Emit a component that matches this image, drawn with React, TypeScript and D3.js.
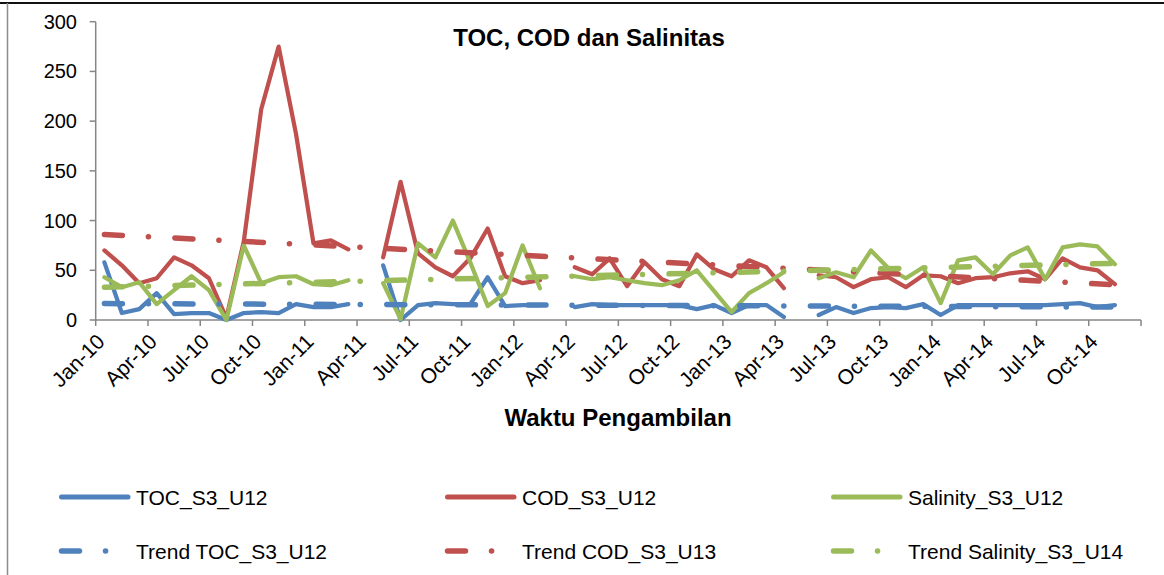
import React from "react";
import * as d3 from "d3";

const categories = [
  "Jan-10","Feb-10","Mar-10","Apr-10","May-10","Jun-10","Jul-10","Aug-10","Sep-10","Oct-10","Nov-10","Dec-10",
  "Jan-11","Feb-11","Mar-11","Apr-11","May-11","Jun-11","Jul-11","Aug-11","Sep-11","Oct-11","Nov-11","Dec-11",
  "Jan-12","Feb-12","Mar-12","Apr-12","May-12","Jun-12","Jul-12","Aug-12","Sep-12","Oct-12","Nov-12","Dec-12",
  "Jan-13","Feb-13","Mar-13","Apr-13","May-13","Jun-13","Jul-13","Aug-13","Sep-13","Oct-13","Nov-13","Dec-13",
  "Jan-14","Feb-14","Mar-14","Apr-14","May-14","Jun-14","Jul-14","Aug-14","Sep-14","Oct-14","Nov-14","Dec-14",
];

const tocS3U12: (number | null)[] = [
  58, 7, 11, 27, 6, 7, 7, 0, 7, 8, 7, 16,
  13, 13, 16, null, 55, 0, 15, 17, 16, 16, 43, 14,
  15, 15, null, 13, 16, 15, 15, 15, 15, 15, 11, 15,
  7, 15, 15, 3, null, 5, 13, 7, 12, 13, 12, 16,
  5, 15, 15, 15, 15, 15, 15, 16, 17, 13, 15, null,
];

const codS3U12: (number | null)[] = [
  70, 55, 37, 42, 63, 55, 42, 2, 79, 212, 275, 187,
  77, 80, 71, null, 63, 139, 67, 53, 44, 62, 92, 44,
  37, 40, null, 53, 46, 62, 34, 58, 41, 34, 66, 51,
  44, 60, 53, 32, null, 45, 43, 33, 41, 43, 33, 45,
  44, 37, 42, 43, 47, 49, 41, 62, 53, 50, 36, null,
];

const salinityS3U12: (number | null)[] = [
  43, 33, 38, 16, 30, 44, 30, 0, 75, 37, 43, 44,
  36, 35, 40, null, 37, 1, 77, 63, 100, 58, 14, 27,
  75, 32, null, 44, 41, 43, 40, 37, 35, 40, 50, 29,
  8, 27, 37, 48, null, 42, 48, 43, 70, 52, 42, 53,
  17, 60, 63, 46, 65, 73, 41, 73, 76, 74, 56, null,
];

// Linear trend lines: value at first month (Jan-10) and last month (Nov-14)
const trendIndex = [0, 58];
const trendToc = [16.5, 13];
const trendCod = [86, 35.5];
const trendSalinity = [33, 57];

const yTicks = [0, 50, 100, 150, 200, 250, 300];

const BLUE = "#4F81BD";
const RED = "#C0504D";
const GREEN = "#9BBB59";
const AXIS = "#868686";
const FONT = "'Liberation Sans', Arial, sans-serif";
const DASH = "18 26 0.1 26.5";

export default function App() {
  const W = 1164;
  const H = 575;
  const x = d3.scaleLinear().domain([0, 60]).range([95.7, 1141]);
  const y = d3.scaleLinear().domain([0, 300]).range([320, 21.7]);
  const px = (i: number) => x(i + 0.5);

  const line = d3
    .line<number | null>()
    .defined((d) => d != null)
    .x((_, i) => px(i))
    .y((d) => y(d as number));

  const trendLine = (vals: number[]) =>
    d3
      .line<number>()
      .x((_, k) => px(trendIndex[k]))
      .y((d) => y(d))(vals) || "";

  const series = [
    { data: tocS3U12, color: BLUE },
    { data: codS3U12, color: RED },
    { data: salinityS3U12, color: GREEN },
  ];
  const trends = [
    { data: trendToc, color: BLUE },
    { data: trendCod, color: RED },
    { data: trendSalinity, color: GREEN },
  ];

  const legend = [
    { label: "TOC_S3_U12", color: BLUE, dash: false, col: 0, row: 0 },
    { label: "COD_S3_U12", color: RED, dash: false, col: 1, row: 0 },
    { label: "Salinity_S3_U12", color: GREEN, dash: false, col: 2, row: 0 },
    { label: "Trend TOC_S3_U12", color: BLUE, dash: true, col: 0, row: 1 },
    { label: "Trend COD_S3_U13", color: RED, dash: true, col: 1, row: 1 },
    { label: "Trend Salinity_S3_U14", color: GREEN, dash: true, col: 2, row: 1 },
  ];
  const legendX = [59, 445, 831];
  const legendY = [497, 551];

  const xTickIdx = d3.range(0, 61, 3);

  return (
    <svg
      width={W}
      height={H}
      style={{ position: "absolute", left: 0, top: 0, background: "#fff" }}
      fontFamily={FONT}
    >
      <rect x={0} y={0} width={W} height={H} fill="#fff" />
      {/* chart border */}
      <line x1={0} x2={W} y1={3} y2={3} stroke="#111" strokeWidth={2} />
      <line x1={7.5} x2={7.5} y1={3} y2={H} stroke="#8c8c8c" strokeWidth={1.5} />

      {/* title */}
      <text x={589} y={46} textAnchor="middle" fontSize={24} fontWeight="bold" fill="#000">
        TOC, COD dan Salinitas
      </text>

      {/* y axis */}
      <line x1={x(0)} x2={x(0)} y1={y(300)} y2={y(0)} stroke={AXIS} strokeWidth={1.5} />
      {yTicks.map((t) => (
        <g key={t}>
          <line x1={x(0) - 6} x2={x(0)} y1={y(t)} y2={y(t)} stroke={AXIS} strokeWidth={1.5} />
          <text x={77} y={y(t)} dy="0.35em" textAnchor="end" fontSize={20} fill="#000">
            {t}
          </text>
        </g>
      ))}

      {/* x axis */}
      <line x1={x(0)} x2={x(60)} y1={y(0)} y2={y(0)} stroke={AXIS} strokeWidth={1.5} />
      {xTickIdx.map((i) => (
        <line key={i} x1={x(i)} x2={x(i)} y1={y(0)} y2={y(0) + 6} stroke={AXIS} strokeWidth={1.5} />
      ))}
      {categories.map((c, i) =>
        i % 3 === 0 ? (
          <text
            key={c}
            transform={`translate(${px(i) + 1.5},${343}) rotate(-45)`}
            textAnchor="end"
            fontSize={21}
            fill="#000"
          >
            {c}
          </text>
        ) : null
      )}

      <text x={618} y={426} textAnchor="middle" fontSize={24} fontWeight="bold" fill="#000">
        Waktu Pengambilan
      </text>

      {/* data series */}
      {series.map((s, k) => (
        <path
          key={k}
          d={line(s.data) || ""}
          fill="none"
          stroke={s.color}
          strokeWidth={4.25}
          strokeLinejoin="round"
          strokeLinecap="round"
        />
      ))}
      {/* trend lines */}
      {trends.map((t, k) => (
        <path
          key={k}
          d={trendLine(t.data)}
          fill="none"
          stroke={t.color}
          strokeWidth={5.5}
          strokeDasharray={DASH}
          strokeLinecap="round"
        />
      ))}

      {/* legend */}
      {legend.map((l) => {
        const lx = legendX[l.col];
        const ly = legendY[l.row];
        return (
          <g key={l.label}>
            <line
              x1={lx + 2.5}
              x2={lx + 69}
              y1={ly}
              y2={ly}
              stroke={l.color}
              strokeWidth={l.dash ? 5.5 : 5}
              strokeLinecap="round"
              strokeDasharray={l.dash ? DASH : undefined}
            />
            <text x={lx + 77} y={ly + 8} fontSize={21} fill="#000">
              {l.label}
            </text>
          </g>
        );
      })}
    </svg>
  );
}
